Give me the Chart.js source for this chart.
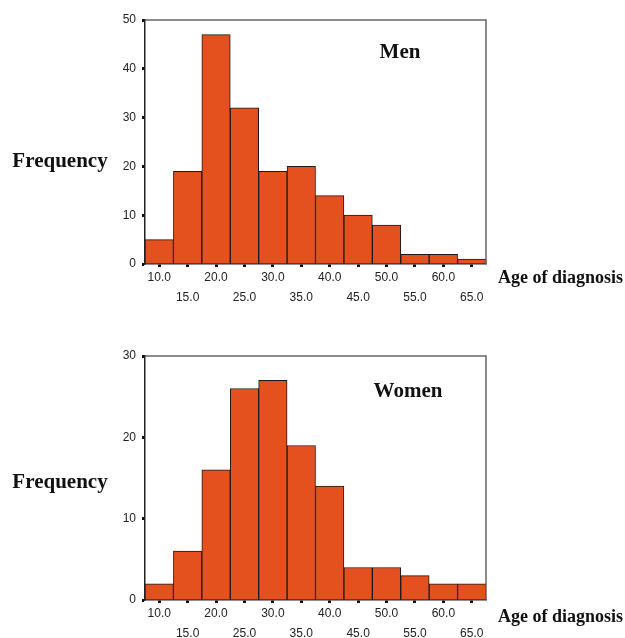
<!DOCTYPE html>
<html>
<head>
<meta charset="utf-8">
<script src="https://cdn.jsdelivr.net/npm/chart.js@4/dist/chart.umd.min.js"></script>
<style>
  body { margin: 0; background: #fff; }
  .wrap { position: absolute; left: 0; width: 625px; }
  #men-wrap { top: 0; height: 320px; }
  #women-wrap { top: 320px; height: 318px; }
</style>
</head>
<body>
<div class="wrap" id="men-wrap"><canvas id="menChart"></canvas></div>
<div class="wrap" id="women-wrap"><canvas id="womenChart"></canvas></div>
<script>
  // bin centres (age of diagnosis), bins are 5 years wide
  var ageBins = [10, 15, 20, 25, 30, 35, 40, 45, 50, 55, 60, 65];
  var menFreq = [5, 19, 47, 32, 19, 20, 14, 10, 8, 2, 2, 1];
  var womenFreq = [2, 6, 16, 26, 27, 19, 14, 4, 4, 3, 2, 2];
  var menTicks = [0, 10, 20, 30, 40, 50];
  var womenTicks = [0, 10, 20, 30];

  // labels alternate between two rows like the original
  var binLabels = ageBins.map(function(a, i) {
    var t = a.toFixed(1);
    return i % 2 === 0 ? [t, ''] : ['', t];
  });

  //----------------------------------------texts + frame--------------------------------------//
  const annotate = {
    id: 'annotate',
    afterDraw(chart, args, opts) {
      var ctx = chart.ctx;
      var a = chart.chartArea;
      ctx.save();
      // top + right frame
      ctx.strokeStyle = '#666';
      ctx.lineWidth = 1.5;
      ctx.beginPath();
      ctx.moveTo(a.left, a.top);
      ctx.lineTo(a.right, a.top);
      ctx.lineTo(a.right, a.bottom);
      ctx.stroke();

      ctx.fillStyle = '#111';
      ctx.textBaseline = 'middle';
      ctx.font = 'bold 21px "Liberation Serif", "Times New Roman", serif';
      ctx.textAlign = 'center';
      ctx.fillText(opts.group, a.left + opts.groupX, a.top + opts.groupY);
      ctx.fillText('Frequency', a.left - 85, a.top + opts.freqY);
      ctx.font = 'bold 18px "Liberation Serif", "Times New Roman", serif';
      ctx.textAlign = 'left';
      ctx.fillText('Age of diagnosis', a.right + 12, a.bottom + opts.ageY);
      ctx.restore();
    }
  };

  function makeChart(id, values, yTicks, text, pad) {
    return new Chart(document.getElementById(id), {
      type: 'bar',
      data: {
        labels: binLabels,
        datasets: [{
          data: values,
          backgroundColor: '#E4511F',
          borderColor: '#1a1a1a',
          borderWidth: 1,
          barPercentage: 1,
          categoryPercentage: 1
        }]
      },
      options: {
        responsive: true,
        maintainAspectRatio: false,
        animation: false,
        layout: { padding: pad },
        plugins: {
          legend: { display: false },
          tooltip: { enabled: false },
          annotate: text
        },
        scales: {
          x: {
            grid: {
              offset: false,
              drawOnChartArea: false,
              tickLength: 3,
              tickWidth: 3,
              tickColor: '#111'
            },
            border: { color: '#222', width: 1.5 },
            ticks: {
              maxRotation: 0,
              autoSkip: false,
              color: '#222',
              padding: 1,
              font: { family: '"Liberation Sans", Arial, sans-serif', size: 12, lineHeight: 1.65 }
            },
            afterFit: function(scale) { scale.height = 50; }
          },
          y: {
            min: 0,
            max: yTicks[yTicks.length - 1],
            afterBuildTicks: function(scale) {
              scale.ticks = yTicks.map(function(v) { return { value: v }; });
            },
            grid: {
              drawOnChartArea: false,
              tickLength: 3,
              tickWidth: 3,
              tickColor: '#111'
            },
            border: { color: '#222', width: 1.5 },
            ticks: {
              color: '#222',
              padding: 6,
              font: { family: '"Liberation Sans", Arial, sans-serif', size: 12 }
            },
            afterFit: function(scale) { scale.width = 40; }
          }
        }
      },
      plugins: [annotate]
    });
  }

  var menChart = makeChart('menChart', menFreq, menTicks,
    { group: 'Men', groupX: 255, groupY: 33, freqY: 142, ageY: 14 },
    { left: 105, right: 139, top: 20, bottom: 6 });

  var womenChart = makeChart('womenChart', womenFreq, womenTicks,
    { group: 'Women', groupX: 263, groupY: 36, freqY: 127, ageY: 17 },
    { left: 105, right: 139, top: 36, bottom: -12 });
</script>
</body>
</html>
